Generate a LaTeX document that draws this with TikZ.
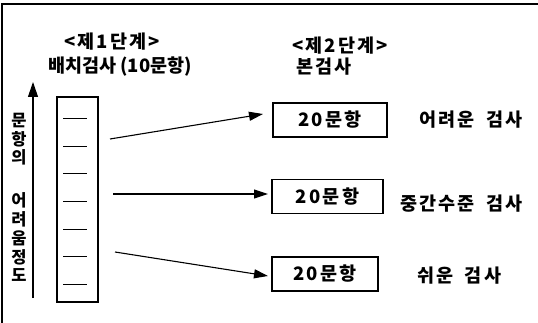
\documentclass[tikz,border=0pt]{standalone}
\usepackage{fontspec}
\setmainfont{Noto Sans CJK KR}
\newfontfamily\kr[LetterSpace=12]{Noto Sans CJK KR}
\newfontfamily\krn{Noto Sans CJK KR}
\usetikzlibrary{arrows.meta}
\begin{document}
\begin{tikzpicture}[x=1pt,y=-1pt,
  lbl/.style={inner sep=0pt,font=\kr\bfseries\fontsize{18.5}{20}\selectfont},
  vch/.style={inner sep=0pt,font=\krn\bfseries\fontsize{16.5}{18}\selectfont},
  itemline/.style={line width=0.9pt},
  conn/.style={line width=1.1pt,-{Triangle[length=14pt,width=9pt]}},
  itembox/.style={draw,line width=1.2pt,minimum height=34pt,inner sep=0pt,font=\kr\bfseries\fontsize{18.5}{20}\selectfont}]
\useasboundingbox (0,0) rectangle (538,323);
% frame (top and left only)
\coordinate (ftl) at (2,4);
\coordinate (ftr) at (538,4);
\coordinate (fbl) at (2,323);
\draw[line width=1.5pt] (fbl) -- (ftl) -- (ftr);
% stage 1 headers
\node[lbl] (s1a) at (112,42) {<제1단계>};
\node[lbl,font=\krn\bfseries\fontsize{18.5}{20}\selectfont] (s1b) at (120,67) {배치검사 (10문항)};
% stage 2 headers
\node[lbl] (s2a) at (340,46) {<제2단계>};
\node[lbl,anchor=west] (s2b) at (296,67) {본검사};
% difficulty axis
\coordinate (ax0) at (33,298);
\coordinate (ax1) at (33,82);
\draw[line width=1.1pt,-{Triangle[length=15pt,width=10pt]}] (ax0) -- (ax1);
\foreach \ch/\yy/\nm in {문/121/v1,항/139/v2,의/157/v3,어/200/v4,려/219/v5,움/238/v6,정/257/v7,도/275/v8}{
  \node[vch] (\nm) at (19,\yy) {\ch};
}
% column box
\node[draw,line width=1.2pt,minimum width=41pt,minimum height=205pt,inner sep=0pt] (col) at (77.5,199.5) {};
\foreach \yy/\nm in {118/d1,146/d2,173/d3,201/d4,229/d5,256/d6,284/d7}{
  \coordinate (\nm a) at (63,\yy);
  \coordinate (\nm b) at (87,\yy);
  \draw[itemline] (\nm a) -- (\nm b);
}
% stage 2 boxes
\node[itembox,minimum width=114pt] (b1) at (330,120) {20문항};
\node[itembox,minimum width=111pt] (b2) at (327.5,196.5) {20문항};
\node[itembox,minimum width=106pt] (b3) at (325,274) {20문항};
% labels
\node[lbl,anchor=west] (l1) at (419,120) {어려운\hspace{5pt} 검사};
\node[lbl,anchor=west] (l2) at (400,204) {중간수준\hspace{5pt} 검사};
\node[lbl,anchor=west] (l3) at (417,276) {쉬운\hspace{5pt} 검사};
% arrows
\coordinate (a1s) at (110,139);
\coordinate (a1e) at (263,114);
\coordinate (a2s) at (113,194);
\coordinate (a2e) at (268,194);
\coordinate (a3s) at (115,252);
\coordinate (a3e) at (268,276);
\draw[conn] (a1s) -- (a1e);
\draw[conn] (a2s) -- (a2e);
\draw[conn] (a3s) -- (a3e);
\end{tikzpicture}
\end{document}
